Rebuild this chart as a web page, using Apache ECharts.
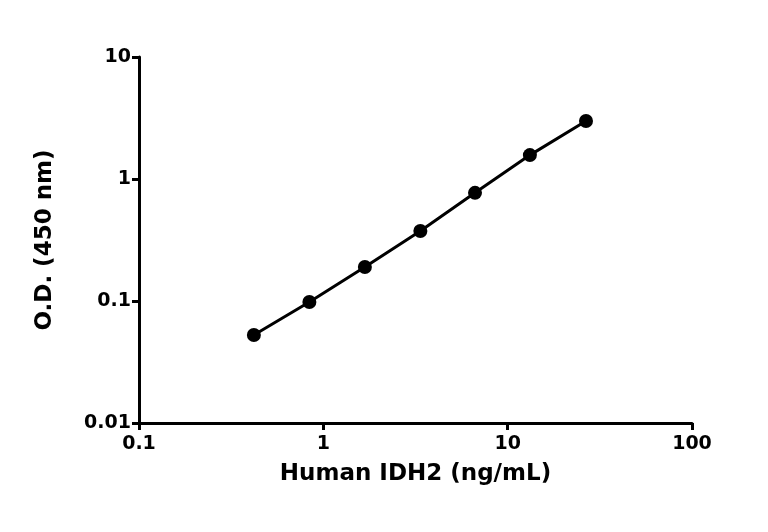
<!DOCTYPE html>
<html><head><meta charset="utf-8">
<script src="https://cdn.jsdelivr.net/npm/echarts@6/dist/echarts.min.js"></script>
<style>html,body{margin:0;padding:0;background:#fff}#c{width:768px;height:532px}</style>
</head><body><div id="c"></div>
<script>
const xValues = [0.42, 0.84, 1.68, 3.36, 6.65, 13.2, 26.6];
const yValues = [0.0526, 0.098, 0.19, 0.375, 0.77, 1.57, 2.99];
const xTitle = 'Human IDH2 (ng/mL)';
const yTitle = 'O.D. (450 nm)';
const chart = echarts.init(document.getElementById('c'));
const axisStyle = {
  axisLine:{show:true,onZero:false,lineStyle:{color:'#000',width:3}},
  axisTick:{show:true,length:7,lineStyle:{color:'#000',width:3}},
  minorTick:{show:false},
  splitLine:{show:false},
  axisLabel:{color:'#000',fontSize:19,fontFamily:'DejaVu Sans',fontWeight:'bold'}
};
chart.setOption({
  animation:false,
  grid:{left:139,right:76,top:57,bottom:109},
  xAxis:Object.assign({type:'log',logBase:10,min:0.1,max:100,name:xTitle,nameLocation:'middle',nameGap:40,
    nameTextStyle:{color:'#000',fontSize:23,fontWeight:'bold',fontFamily:'DejaVu Sans'}},axisStyle,
    {axisLabel:Object.assign({},axisStyle.axisLabel,{margin:12})}),
  yAxis:Object.assign({type:'log',logBase:10,min:0.01,max:10,name:yTitle,nameLocation:'middle',nameGap:82,
    nameTextStyle:{color:'#000',fontSize:23,fontWeight:'bold',fontFamily:'DejaVu Sans'}},axisStyle),
  series:[{type:'line',data:xValues.map((x,i)=>[x,yValues[i]]),symbol:'circle',symbolSize:14,
    lineStyle:{color:'#000',width:3},itemStyle:{color:'#000'}}]
});
</script></body></html>
